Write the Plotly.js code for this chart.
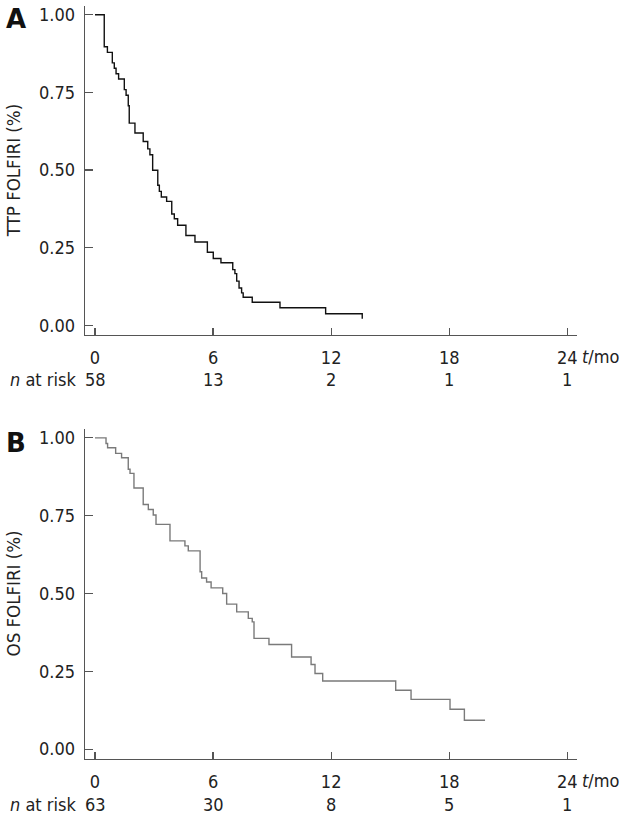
<!DOCTYPE html>
<html>
<head>
<meta charset="utf-8">
<script src="https://cdn.plot.ly/plotly-3.0.1.min.js"></script>
<style>html,body{margin:0;padding:0;background:#fff;}#chart{width:630px;height:829px;}</style>
</head>
<body>
<div id="chart"></div>
<script>
// Panel A: time to progression (FOLFIRI), Kaplan-Meier steps
const ttpTime = [0, 0.47, 0.63, 0.88, 0.98, 1.07, 1.2, 1.49, 1.58, 1.69, 1.74, 2.03, 2.45, 2.68, 2.79, 2.93, 3.19, 3.27, 3.37, 3.64, 3.9, 4.03, 4.2, 4.62, 5.08, 5.71, 6.01, 6.4, 7.0, 7.11, 7.2, 7.32, 7.45, 7.53, 7.99, 9.4, 11.72, 13.58];
const ttpSurv = [1.0, 0.897, 0.879, 0.845, 0.828, 0.810, 0.793, 0.759, 0.741, 0.707, 0.651, 0.619, 0.592, 0.568, 0.549, 0.499, 0.451, 0.431, 0.413, 0.399, 0.358, 0.343, 0.322, 0.289, 0.268, 0.235, 0.215, 0.201, 0.179, 0.166, 0.142, 0.120, 0.104, 0.090, 0.074, 0.056, 0.037, 0.021];

// Panel B: overall survival (FOLFIRI)
const osTime = [0, 0.56, 0.64, 1.05, 1.35, 1.69, 1.78, 1.98, 2.45, 2.71, 2.96, 3.1, 3.81, 4.57, 4.74, 5.34, 5.42, 5.67, 5.9, 6.49, 6.69, 7.2, 7.79, 7.99, 8.08, 8.84, 9.99, 10.98, 11.18, 11.57, 15.28, 16.06, 18.04, 18.77, 19.82];
const osSurv = [1.0, 0.982, 0.968, 0.950, 0.936, 0.899, 0.886, 0.839, 0.786, 0.770, 0.752, 0.722, 0.669, 0.653, 0.637, 0.570, 0.550, 0.537, 0.518, 0.500, 0.466, 0.441, 0.420, 0.409, 0.356, 0.336, 0.296, 0.272, 0.243, 0.219, 0.189, 0.160, 0.128, 0.093, 0.093];

// Axes ticks
const xTicks = [0, 6, 12, 18, 24];
const xTickLabels = ['0', '6', '12', '18', '24'];
const yTicks = [0, 0.25, 0.5, 0.75, 1.0];
const yTickLabels = ['0.00', '0.25', '0.50', '0.75', '1.00'];

// Number at risk
const riskTimes = [0, 6, 12, 18, 24];
const ttpAtRisk = [58, 13, 2, 1, 1];
const osAtRisk = [63, 30, 8, 5, 1];

const FONT = '"DejaVu Sans Condensed", "DejaVu Sans", sans-serif';
const TXT = '#222';
const AX = '#555';
const W = 630, H = 829;

function px(y) { return 1 - y / H; }

const traces = [
  {x: ttpTime, y: ttpSurv, xaxis: 'x', yaxis: 'y', mode: 'lines',
   line: {shape: 'hv', color: '#111', width: 1.4}, hoverinfo: 'x+y', showlegend: false},
  {x: osTime, y: osSurv, xaxis: 'x2', yaxis: 'y2', mode: 'lines',
   line: {shape: 'hv', color: '#7a7a7a', width: 1.4}, hoverinfo: 'x+y', showlegend: false}
];

const xDom = [85.16 / W, 577.14 / W];
const yDomA = [px(334.5), px(5.5)];
const yDomB = [px(758.5), px(428.5)];

function xAxis(anchor) {
  return {
    domain: xDom, range: [-0.5, 24.5], anchor: anchor,
    showline: true, linecolor: AX, linewidth: 1.5,
    ticks: 'inside', ticklen: 7, tickwidth: 1.2, tickcolor: AX,
    tickvals: xTicks, ticktext: xTickLabels,
    tickfont: {family: FONT, size: 18, color: TXT},
    ticklabelstandoff: 6,
    showgrid: false, zeroline: false, fixedrange: true
  };
}
function yAxis(anchor, dom, title) {
  return {
    domain: dom, range: [-0.03, 1.03], anchor: anchor,
    showline: true, linecolor: AX, linewidth: 1.5,
    ticks: 'inside', ticklen: 8, tickwidth: 1.2, tickcolor: AX,
    tickvals: yTicks, ticktext: yTickLabels,
    tickfont: {family: FONT, size: 18, color: TXT},
    ticklabelstandoff: 5,
    title: {text: title, font: {family: FONT, size: 18.5, color: TXT}, standoff: 13},
    showgrid: false, zeroline: false, fixedrange: true
  };
}

const annotations = [];
function riskRow(values, yPix, xref) {
  annotations.push({xref: 'paper', yref: 'paper', x: 78 / W, y: px(yPix), xanchor: 'right', yanchor: 'middle',
    text: '<i>n</i> at risk', showarrow: false, font: {family: FONT, size: 18, color: TXT}});
  values.forEach((v, i) => {
    annotations.push({xref: xref, yref: 'paper', x: riskTimes[i], y: px(yPix), xanchor: 'center', yanchor: 'middle',
      text: String(v), showarrow: false, font: {family: FONT, size: 18, color: TXT}});
  });
}
riskRow(ttpAtRisk, 380, 'x');
riskRow(osAtRisk, 804, 'x2');

// unit labels after last tick
annotations.push({xref: 'paper', yref: 'paper', x: 580 / W, y: px(356), xanchor: 'left', yanchor: 'middle',
  text: '<i>t</i>/mo', showarrow: false, font: {family: FONT, size: 18, color: TXT}});
annotations.push({xref: 'paper', yref: 'paper', x: 580 / W, y: px(780), xanchor: 'left', yanchor: 'middle',
  text: '<i>t</i>/mo', showarrow: false, font: {family: FONT, size: 18, color: TXT}});

// panel letters
annotations.push({xref: 'paper', yref: 'paper', x: 15.5 / W, y: px(19.5), xanchor: 'center', yanchor: 'middle',
  text: '<b>A</b>', showarrow: false, font: {family: '"DejaVu Sans", sans-serif', size: 26, color: '#111'}});
annotations.push({xref: 'paper', yref: 'paper', x: 15.5 / W, y: px(443), xanchor: 'center', yanchor: 'middle',
  text: '<b>B</b>', showarrow: false, font: {family: '"DejaVu Sans", sans-serif', size: 26, color: '#111'}});

const layout = {
  width: W, height: H,
  margin: {l: 0, r: 0, t: 0, b: 0},
  paper_bgcolor: '#fff', plot_bgcolor: '#fff',
  showlegend: false,
  xaxis: xAxis('y'),
  yaxis: yAxis('x', yDomA, 'TTP FOLFIRI (%)'),
  xaxis2: xAxis('y2'),
  yaxis2: yAxis('x2', yDomB, 'OS FOLFIRI (%)'),
  annotations: annotations
};

Plotly.newPlot('chart', traces, layout, {displayModeBar: false, staticPlot: true});
</script>
</body>
</html>
